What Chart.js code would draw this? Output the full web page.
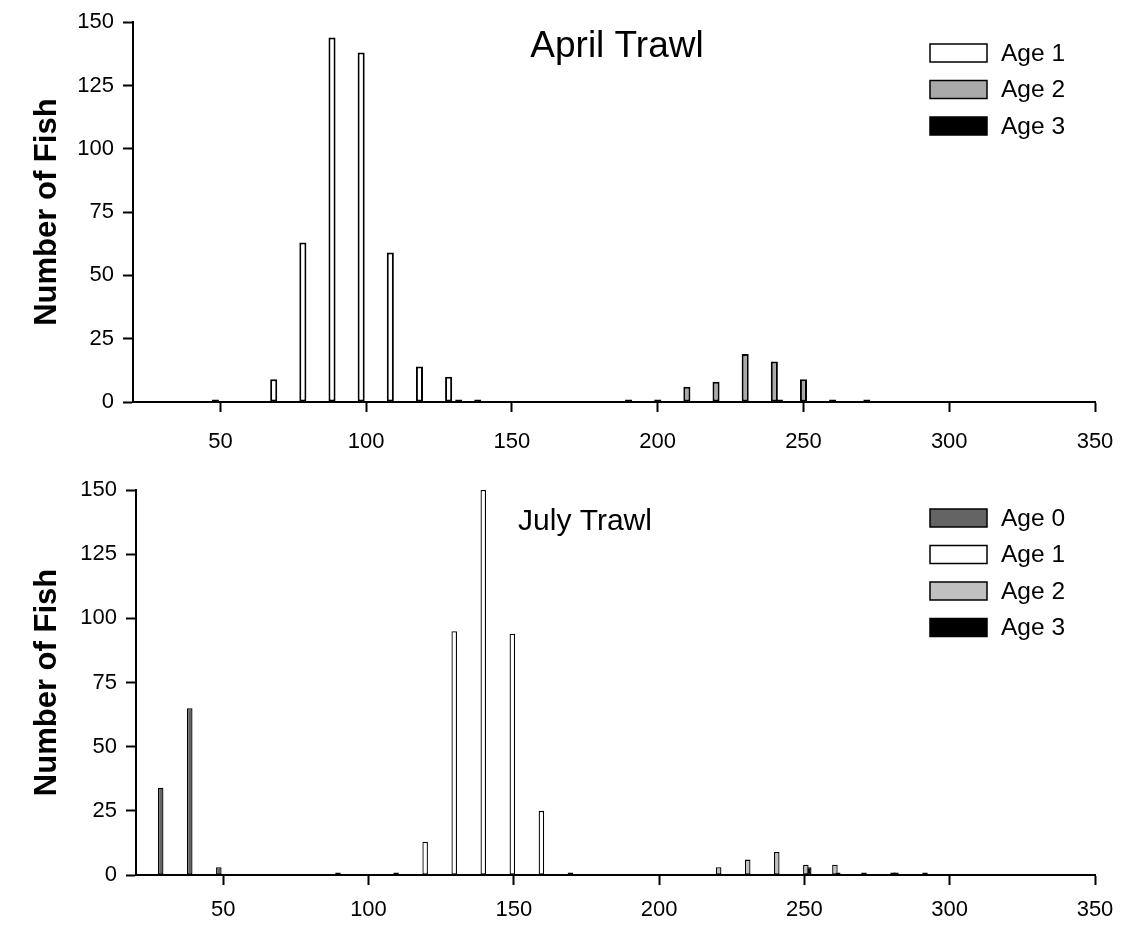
<!DOCTYPE html>
<html>
<head>
<meta charset="utf-8">
<script src="https://cdn.jsdelivr.net/npm/chart.js@4.4.0/dist/chart.umd.min.js"></script>
<style>
  html, body { margin: 0; padding: 0; background: #fff; }
  .panel { position: absolute; left: 0; width: 1125px; height: 465px; }
  #top { top: 0; }
  #bottom { top: 465px; }
</style>
</head>
<body>
<div class="panel" id="top"><canvas id="chartApril" width="1125" height="465"></canvas></div>
<div class="panel" id="bottom"><canvas id="chartJuly" width="1125" height="465"></canvas></div>
<script>
const xTicks = [50, 100, 150, 200, 250, 300, 350];
const yTicks = [0, 25, 50, 75, 100, 125, 150];

// April trawl : length class (mm) and number of fish per age
const aprilAge1Len = [50, 70, 80, 90, 100, 110, 120, 130, 140];
const aprilAge1N   = [1, 9, 63, 144, 138, 59, 14, 10, 1];
const aprilAge2Len = [190, 200, 210, 220, 230, 240, 250, 260];
const aprilAge2N   = [1, 1, 6, 8, 19, 16, 9, 1];
const aprilAge3Len = [130, 240, 270];
const aprilAge3N   = [1, 1, 1];

// July trawl
const julyAge0Len = [30, 40, 50];
const julyAge0N   = [34, 65, 3];
const julyAge1Len = [90, 110, 120, 130, 140, 150, 160, 170];
const julyAge1N   = [1, 1, 13, 95, 150, 94, 25, 1];
const julyAge2Len = [220, 230, 240, 250, 260, 270, 280];
const julyAge2N   = [3, 6, 9, 4, 4, 1, 1];
const julyAge3Len = [250, 260, 280, 290];
const julyAge3N   = [3, 1, 1, 1];

Chart.defaults.font.family = '"Liberation Sans", Arial, sans-serif';
Chart.defaults.color = '#000';

function points(lens, counts) {
  return lens.map((l, i) => ({ x: l, y: counts[i] }));
}

// legend + title drawn inside the plot, like the original
const insidePlot = {
  id: 'insidePlot',
  afterDraw(chart, args, opts) {
    const ctx = chart.ctx;
    ctx.save();
    ctx.fillStyle = '#000';
    ctx.font = opts.titleSize + 'px "Liberation Sans", Arial, sans-serif';
    ctx.textAlign = 'center';
    ctx.textBaseline = 'alphabetic';
    ctx.fillText(opts.title, opts.titleX, opts.titleY);

    ctx.font = '24.5px "Liberation Sans", Arial, sans-serif';
    ctx.textAlign = 'left';
    ctx.textBaseline = 'middle';
    chart.data.datasets.forEach((ds, i) => {
      const y = opts.legendTop + i * opts.legendStep;
      ctx.fillStyle = ds.backgroundColor;
      ctx.fillRect(opts.legendLeft, y, 57, 18);
      ctx.lineWidth = 1.5;
      ctx.strokeStyle = '#000';
      ctx.strokeRect(opts.legendLeft, y, 57, 18);
      ctx.fillStyle = '#000';
      ctx.fillText(ds.label, opts.legendLeft + 71, y + 10);
    });
    ctx.restore();
  }
};

function axisLines() {
  return {
    display: true,
    drawOnChartArea: false,
    drawTicks: true,
    tickLength: 10,
    tickWidth: 2,
    tickColor: '#000',
    offset: false
  };
}

function makeChart(id, datasets, cfg) {
  return new Chart(document.getElementById(id), {
    type: 'bar',
    data: { datasets: datasets },
    options: {
      responsive: false,
      animation: false,
      devicePixelRatio: 1,
      layout: { padding: { top: cfg.padTop, right: 30, left: 0, bottom: 0 } },
      datasets: {
        bar: {
          categoryPercentage: cfg.catPct,
          barPercentage: cfg.barPct,
          borderColor: '#000',
          borderWidth: cfg.borderW,
          borderSkipped: false
        }
      },
      plugins: {
        legend: { display: false },
        tooltip: { enabled: false },
        insidePlot: cfg.inside
      },
      scales: {
        x: {
          type: 'linear',
          min: 20,
          max: 350,
          offset: false,
          afterBuildTicks: s => { s.ticks = xTicks.map(v => ({ value: v })); },
          afterFit: s => { s.height = cfg.xAxisH; },
          grid: axisLines(),
          border: { display: true, color: '#000', width: 2 },
          ticks: {
            font: { size: 22, lineHeight: cfg.xLabelLH },
            padding: 11,
            maxRotation: 0,
            autoSkip: false
          }
        },
        y: {
          min: 0,
          max: 150,
          afterBuildTicks: s => { s.ticks = yTicks.map(v => ({ value: v })); },
          afterFit: s => { s.width = cfg.yAxisW; },
          grid: axisLines(),
          border: { display: true, color: '#000', width: 2 },
          ticks: { font: { size: 22 }, padding: 9 },
          title: {
            display: true,
            text: 'Number of Fish',
            font: { size: 31, weight: 'bold' },
            padding: { top: 29, bottom: 0 }
          }
        }
      }
    },
    plugins: [insidePlot]
  });
}

makeChart('chartApril', [
  { label: 'Age 1', data: points(aprilAge1Len, aprilAge1N), backgroundColor: '#ffffff' },
  { label: 'Age 2', data: points(aprilAge2Len, aprilAge2N), backgroundColor: '#a9a9a9' },
  { label: 'Age 3', data: points(aprilAge3Len, aprilAge3N), backgroundColor: '#000000' }
], {
  padTop: 20, xAxisH: 63, yAxisW: 133, xLabelLH: 1.75,
  catPct: 0.52, barPct: 1.4, borderW: 2,
  inside: { title: 'April Trawl', titleSize: 37, titleX: 617, titleY: 57,
            legendLeft: 930, legendTop: 44, legendStep: 36.5 }
});

makeChart('chartJuly', [
  { label: 'Age 0', data: points(julyAge0Len, julyAge0N), backgroundColor: '#646464' },
  { label: 'Age 1', data: points(julyAge1Len, julyAge1N), backgroundColor: '#ffffff' },
  { label: 'Age 2', data: points(julyAge2Len, julyAge2N), backgroundColor: '#c0c0c0' },
  { label: 'Age 3', data: points(julyAge3Len, julyAge3N), backgroundColor: '#000000' }
], {
  padTop: 25, xAxisH: 55, yAxisW: 136, xLabelLH: 1.3,
  catPct: 0.4, barPct: 1.9, borderW: 1.3,
  inside: { title: 'July Trawl', titleSize: 30, titleX: 585, titleY: 65,
            legendLeft: 930, legendTop: 44, legendStep: 36.5 }
});
</script>
</body>
</html>
